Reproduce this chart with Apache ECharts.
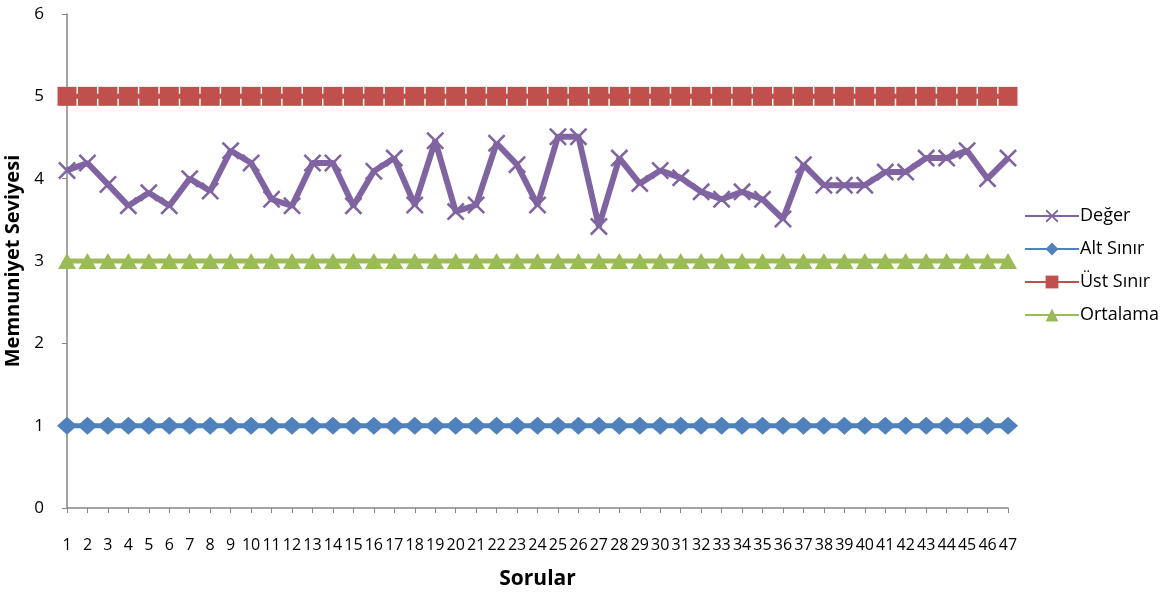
<!DOCTYPE html>
<html>
<head>
<meta charset="utf-8">
<script src="https://cdn.jsdelivr.net/npm/echarts@6/dist/echarts.min.js"></script>
<style>
html,body{margin:0;padding:0;background:#fff;}
#chart{width:1172px;height:598px;}
</style>
</head>
<body>
<div id="chart"></div>
<script>
var categories = [];
for (var i = 1; i <= 47; i++) categories.push(String(i));

var degerValues = [4.10, 4.19, 3.93, 3.67, 3.83, 3.67, 4.00, 3.85, 4.34, 4.19,
                   3.75, 3.67, 4.19, 4.19, 3.67, 4.09, 4.25, 3.68, 4.46, 3.60,
                   3.68, 4.43, 4.17, 3.68, 4.51, 4.51, 3.42, 4.25, 3.94, 4.10,
                   4.01, 3.84, 3.75, 3.84, 3.75, 3.51, 4.17, 3.92, 3.92, 3.92,
                   4.08, 4.08, 4.25, 4.25, 4.34, 4.00, 4.25];
var altSinirValues = categories.map(function(){ return 1; });
var ustSinirValues = categories.map(function(){ return 5; });
var ortalamaValues = categories.map(function(){ return 3; });
var yTicks = [0, 1, 2, 3, 4, 5, 6];

var seriesNames = ['Değer', 'Alt Sınır', 'Üst Sınır', 'Ortalama'];
var crossPath = 'path://M0,1 L1,0 L5,4 L9,0 L10,1 L6,5 L10,9 L9,10 L5,6 L1,10 L0,9 L4,5 Z';

var chart = echarts.init(document.getElementById('chart'));
chart.setOption({
  animation: false,
  backgroundColor: '#ffffff',
  textStyle: { fontFamily: 'Open Sans' },
  grid: { left: 67, right: 164, top: 14, bottom: 90, containLabel: false, outerBoundsMode: 'none' },
  legend: {
    orient: 'vertical',
    left: 1019,
    top: 202,
    itemWidth: 54,
    itemHeight: 16,
    itemGap: 15,
    data: seriesNames,
    textStyle: { fontSize: 18, color: '#000', fontFamily: 'Open Sans', padding: [0,0,0,-4] }
  },
  xAxis: {
    type: 'category',
    data: categories,
    boundaryGap: false,
    name: 'Sorular',
    nameLocation: 'middle',
    nameGap: 61,
    nameTextStyle: { fontSize: 21, fontWeight: 'bold', color: '#000', fontFamily: 'Open Sans' },
    axisLine: { lineStyle: { color: '#868686', width: 1.5 } },
    axisTick: { show: true, alignWithLabel: true, interval: 0, length: 5, lineStyle: { color: '#868686' } },
    axisLabel: { interval: 0, margin: 29, fontSize: 16, color: '#000', fontFamily: 'Open Sans', hideOverlap: false },
    splitLine: { show: false }
  },
  yAxis: {
    type: 'value',
    min: yTicks[0],
    max: yTicks[yTicks.length - 1],
    interval: 1,
    name: 'Memnuniyet Seviyesi',
    nameLocation: 'middle',
    nameGap: 40,
    nameTextStyle: { fontSize: 20, fontWeight: 'bold', color: '#000', fontFamily: 'Open Sans' },
    axisLine: { show: true, lineStyle: { color: '#868686', width: 1.5 } },
    axisTick: { show: true, length: 5, lineStyle: { color: '#868686' } },
    axisLabel: { margin: 23, fontSize: 17, color: '#000', fontFamily: 'Open Sans' },
    splitLine: { show: false }
  },
  series: [
    {
      name: seriesNames[0], type: 'line', data: degerValues,
      symbol: crossPath, symbolSize: 18,
      itemStyle: { color: '#8064A2' },
      lineStyle: { color: '#8064A2', width: 6 },
      z: 5
    },
    {
      name: seriesNames[1], type: 'line', data: altSinirValues,
      symbol: 'diamond', symbolSize: [20, 18],
      itemStyle: { color: '#4F81BD' },
      lineStyle: { color: '#4F81BD', width: 5 }
    },
    {
      name: seriesNames[2], type: 'line', data: ustSinirValues,
      symbol: 'rect', symbolSize: 19,
      itemStyle: { color: '#C0504D' },
      lineStyle: { color: '#C0504D', width: 5 }
    },
    {
      name: seriesNames[3], type: 'line', data: ortalamaValues,
      symbol: 'triangle', symbolSize: [18, 16],
      itemStyle: { color: '#9BBB59' },
      lineStyle: { color: '#9BBB59', width: 5 }
    }
  ]
});
</script>
</body>
</html>
